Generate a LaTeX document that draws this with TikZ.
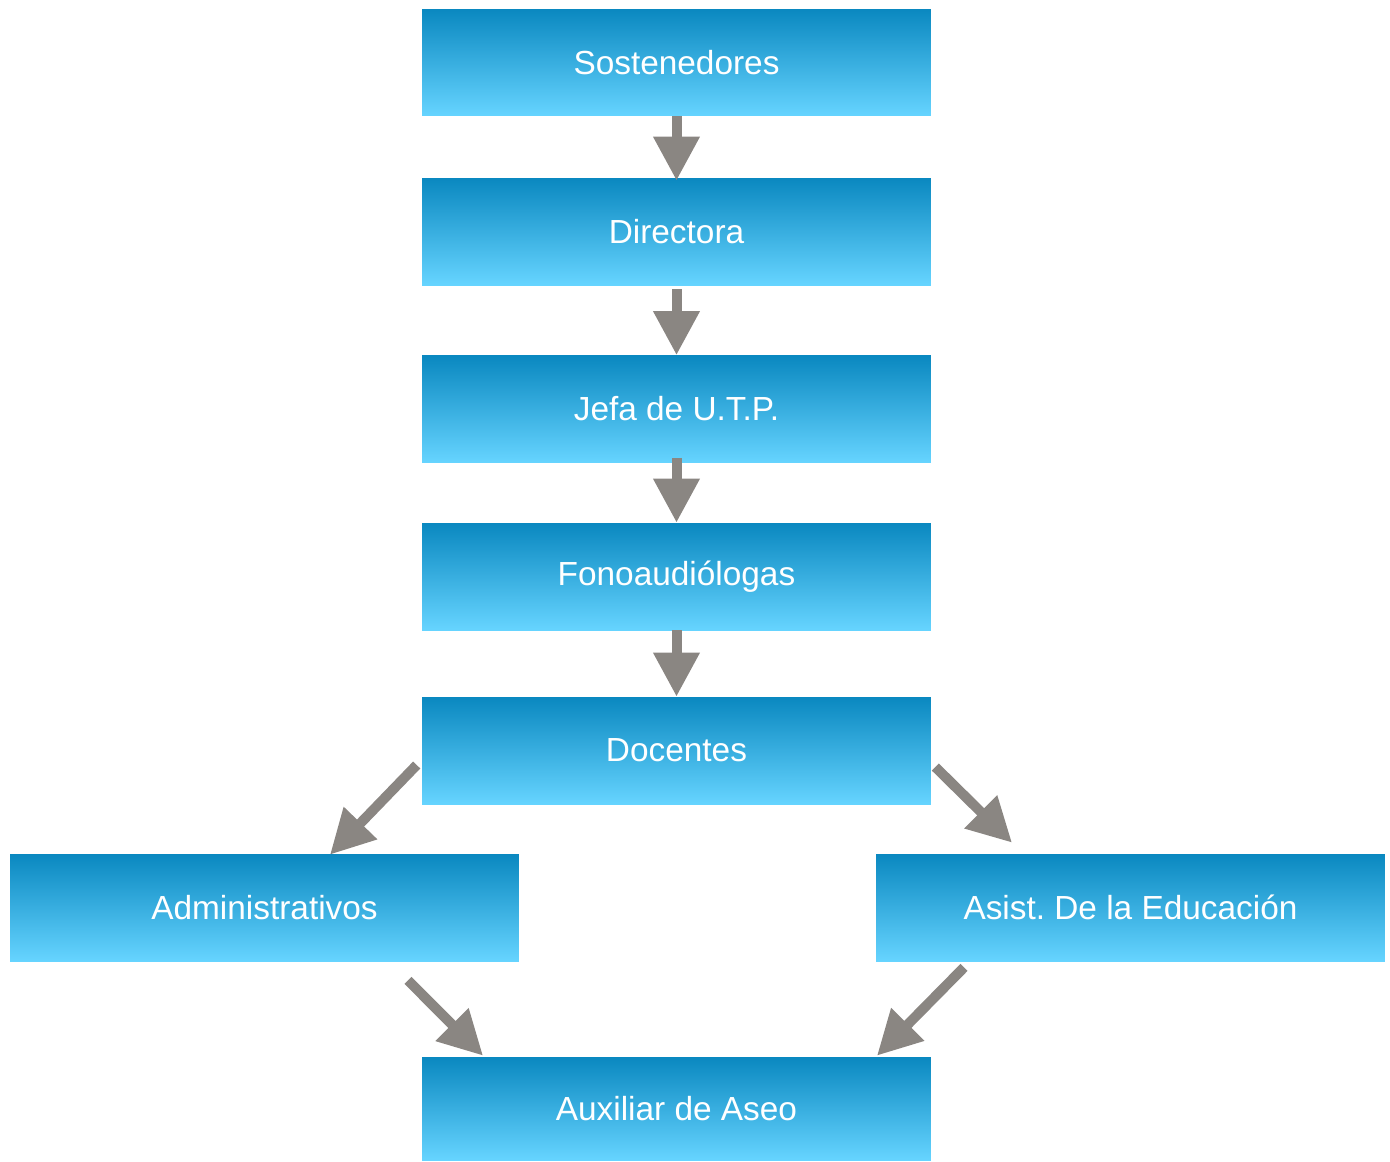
\documentclass[tikz,border=0pt]{standalone}
\usepackage{fontspec}
\setmainfont{Liberation Sans}
\usetikzlibrary{arrows.meta}
\definecolor{boxtop}{HTML}{0A88C0}
\definecolor{boxbottom}{HTML}{66D4FF}
\definecolor{arrowgray}{HTML}{8A8682}
\frenchspacing

\begin{document}
\begin{tikzpicture}[x=0.02cm, y=-0.02cm,
    rolebox/.style={rectangle, inner sep=0pt, minimum width=10.18cm, minimum height=2.14cm,
      top color=boxtop, bottom color=boxbottom, text=white, font=\fontsize{19}{22}\selectfont},
    link/.style={arrowgray, line width=0.2cm, -{Triangle[width=0.88cm, length=0.88cm]}}]
      \useasboundingbox (0,0) rectangle (1390,1161);
      \node [rolebox] (sost) at (676.5,62.5) {Sostenedores};
      \node [rolebox] (dir) at (676.5,231.5) {Directora};
      \node [rolebox] (utp) at (676.5,409) {Jefa de U.T.P.};
      \node [rolebox] (fono) at (676.5,576.5) {Fonoaudiólogas};
      \node [rolebox] (doc) at (676.5,750.5) {Docentes};
      \node [rolebox] (adm) at (264.5,907.5) {Administrativos};
      \node [rolebox] (asis) at (1130.5,907.5) {Asist. De la Educación};
      \node [rolebox, minimum height=2.06cm] (aux) at (676.5,1108.5) {Auxiliar de Aseo};

      \draw [link] (sost.south) -- ([yshift=-0.06cm]dir.north);
      \draw [link] ([yshift=-0.08cm]dir.south) -- (utp.north);
      \draw [link] ([yshift=0.1cm]utp.south) -- (fono.north);
      \draw [link] (fono.south) -- (doc.north);
      \draw [link] ([xshift=-0.1cm, yshift=-0.29cm]doc.west) -- ([xshift=1.31cm, yshift=-0.02cm]adm.north);
      \draw [link] ([xshift=0.08cm, yshift=-0.33cm]doc.east) -- ([xshift=-2.37cm, yshift=0.22cm]asis.north);
      \draw [link] ([xshift=2.87cm, yshift=-0.38cm]adm.south) -- ([xshift=-3.87cm, yshift=0.02cm]aux.north);
      \draw [link] ([xshift=-3.33cm, yshift=-0.12cm]asis.south) -- ([xshift=4.01cm, yshift=0.02cm]aux.north);
\end{tikzpicture}
\end{document}
